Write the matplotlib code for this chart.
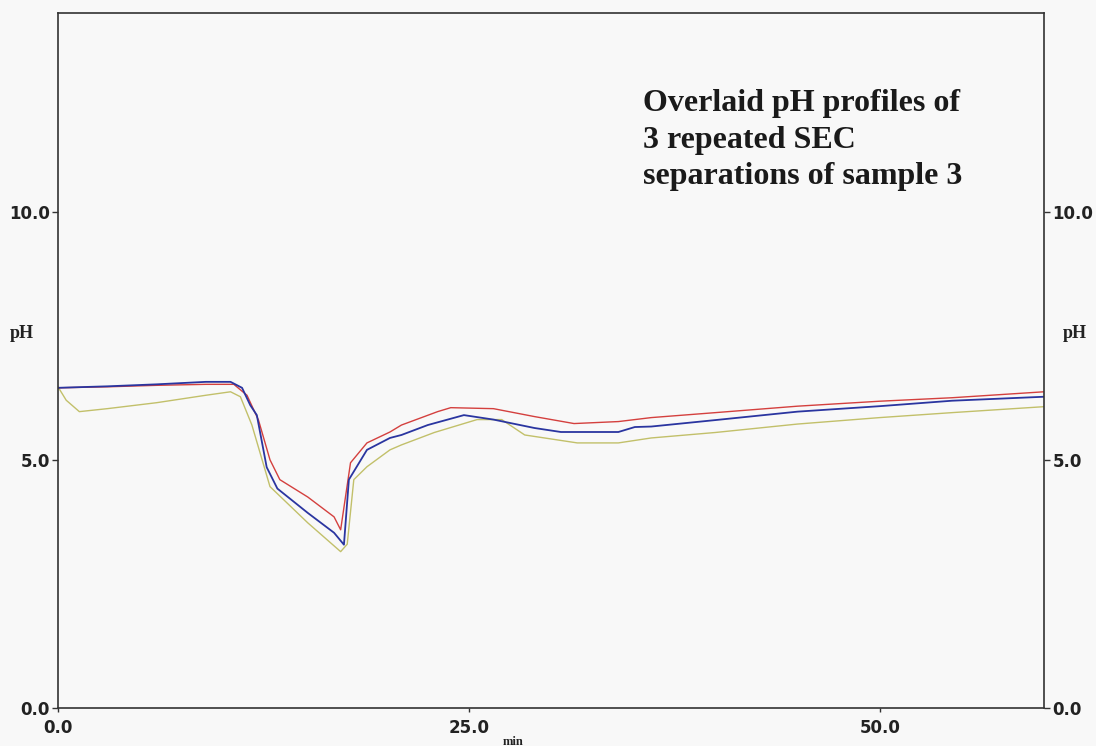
import matplotlib
matplotlib.use("Agg")
import matplotlib.pyplot as plt

# ==========================
# DATA
# ==========================

red_t = [0, 3, 6, 9, 10.7, 11.5, 12.2, 12.9, 13.5, 15.2, 16.8, 17.2, 17.8, 18.8,
         20.2, 20.9, 23.1, 23.9, 26.5, 29.0, 31.4, 34.1, 36.1, 40, 45, 50, 54.4, 60]
red_ph = [6.45, 6.47, 6.50, 6.52, 6.52, 6.30, 5.80, 5.00, 4.60, 4.25, 3.85, 3.59, 4.94, 5.34,
          5.56, 5.70, 5.97, 6.05, 6.03, 5.87, 5.73, 5.77, 5.85, 5.95, 6.08, 6.18, 6.25, 6.37]

blue_t = [0, 3, 6, 9, 10.5, 11.2, 11.7, 12.1, 12.7, 13.35, 15.2, 16.8, 17.4, 17.7, 18.8,
          20.2, 20.9, 22.5, 24.7, 26.5, 29.0, 30.6, 34.1, 35.1, 36.1, 40, 45, 50, 54.4, 60]
blue_ph = [6.45, 6.48, 6.52, 6.57, 6.57, 6.45, 6.10, 5.90, 4.85, 4.42, 3.93, 3.53, 3.29, 4.60, 5.20,
           5.44, 5.50, 5.70, 5.90, 5.81, 5.64, 5.56, 5.56, 5.66, 5.67, 5.80, 5.97, 6.08, 6.19, 6.27]

yellow_t = [0, 0.5, 1.3, 3, 6, 9, 10.5, 11.1, 11.8, 12.9, 15.2, 17.2, 17.6, 18.0, 18.8,
            20.2, 20.9, 22.9, 25.5, 27.0, 28.4, 31.6, 34.1, 36.1, 40, 45, 50, 54.4, 60]
yellow_ph = [6.47, 6.20, 5.97, 6.03, 6.15, 6.30, 6.37, 6.27, 5.70, 4.46, 3.73, 3.15, 3.30, 4.60, 4.86,
             5.20, 5.30, 5.55, 5.81, 5.81, 5.50, 5.34, 5.34, 5.44, 5.55, 5.72, 5.85, 5.95, 6.07]

x_ticks = [0, 25, 50]
x_tick_labels = ["0.0", "25.0", "50.0"]
y_ticks = [0, 5, 10]
y_tick_labels = ["0.0", "5.0", "10.0"]

# ==========================
# FIGURE
# ==========================

fig = plt.figure(figsize=(10.96, 7.46), dpi=100, facecolor="#f8f8f8")
ax = fig.add_axes([0.0529, 0.0509, 0.8997, 0.9317])
ax.set_facecolor("#f8f8f8")

ax.plot(yellow_t, yellow_ph, color="#c2c06a", lw=1.0)
ax.plot(red_t, red_ph, color="#d4403e", lw=1.0)
ax.plot(blue_t, blue_ph, color="#2a35a0", lw=1.3)

ax.set_xlim(0, 60)
ax.set_ylim(0, 14)

for side in ["left", "right", "top", "bottom"]:
    ax.spines[side].set_color("#333333")
    ax.spines[side].set_linewidth(1.2)

ax.set_xticks(x_ticks)
ax.set_xticklabels(x_tick_labels, fontsize=12, fontweight="bold")
ax.set_yticks(y_ticks)
ax.set_yticklabels(y_tick_labels, fontsize=12, fontweight="bold")
ax.tick_params(axis="x", direction="out", length=3, width=1, colors="#333333",
               labelcolor="#222222", pad=5)
ax.tick_params(axis="y", direction="out", length=4, width=1, colors="#333333",
               labelcolor="#222222", left=True, right=True,
               labelleft=True, labelright=True, pad=2)

# axis labels
fig.text(22 / 1096, 1 - 333 / 746, "pH", family="Liberation Serif", fontweight="bold",
         fontsize=13, ha="center", va="center", color="#222222")
fig.text(1075 / 1096, 1 - 333 / 746, "pH", family="Liberation Serif", fontweight="bold",
         fontsize=13, ha="center", va="center", color="#222222")
fig.text(513 / 1096, 1 - 742 / 746, "min", family="Liberation Serif", fontweight="bold",
         fontsize=9, ha="center", va="center", color="#222222")

# annotation
fig.text(643 / 1096, 1 - 89 / 746,
         "Overlaid pH profiles of\n3 repeated SEC\nseparations of sample 3",
         family="Liberation Serif", fontweight="bold", fontsize=23,
         ha="left", va="top", linespacing=1.35, color="#1a1a1a")

fig.savefig("out.png", dpi=100, facecolor=fig.get_facecolor())
plt.close()
